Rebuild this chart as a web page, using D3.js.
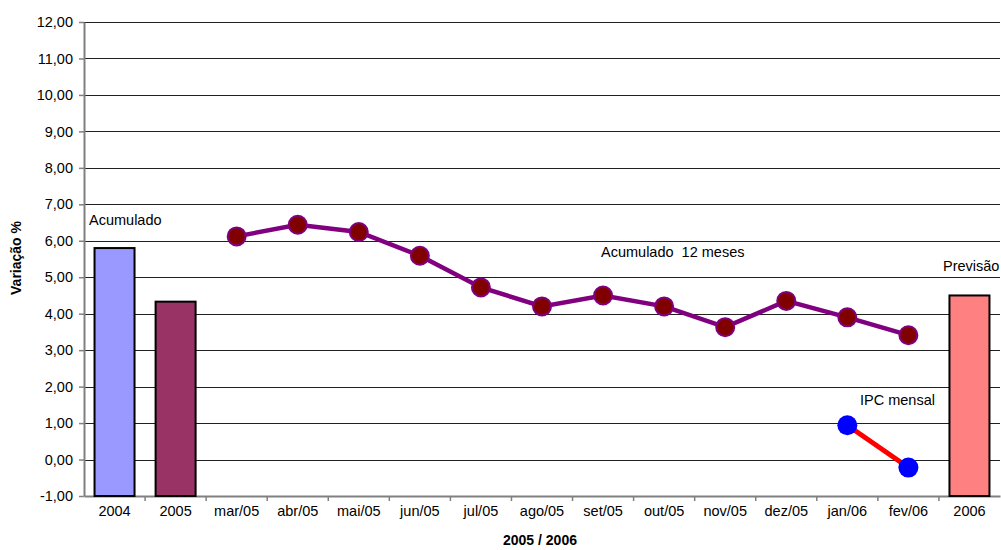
<!DOCTYPE html>
<html>
<head>
<meta charset="utf-8">
<script src="https://cdn.jsdelivr.net/npm/d3@7"></script>
<style>
  html, body { margin: 0; padding: 0; background: #fff; }
  svg text { font-family: "Liberation Sans", Arial, sans-serif; fill: #000; }
</style>
</head>
<body>
<svg id="chart" width="1001" height="550"></svg>
<script>
// Categories along the horizontal axis
const categories = ["2004", "2005", "mar/05", "abr/05", "mai/05", "jun/05", "jul/05",
  "ago/05", "set/05", "out/05", "nov/05", "dez/05", "jan/06", "fev/06", "2006"];

// Annual accumulated variation (bars)
const annualCats = ["2004", "2005", "2006"];
const annualValues = [5.80, 4.33, 4.50];
const annualColors = ["#9999FF", "#993366", "#FF8080"];

// 12-month accumulated IPC
const acumMonths = ["mar/05", "abr/05", "mai/05", "jun/05", "jul/05", "ago/05",
  "set/05", "out/05", "nov/05", "dez/05", "jan/06", "fev/06"];
const acumValues = [6.12, 6.44, 6.24, 5.59, 4.72, 4.20, 4.50, 4.20, 3.63, 4.35, 3.90, 3.41];

// Monthly IPC
const ipcMonths = ["jan/06", "fev/06"];
const ipcValues = [0.94, -0.22];

// Y axis ticks
const yTicks = d3.range(-1, 12.5, 1);

const svg = d3.select("#chart");
const plotLeft = 84, plotRight = 1000, plotTop = 22, plotBottom = 496;
const fontSize = 14.5;

const x = d3.scaleBand().domain(categories).range([plotLeft, plotRight]).padding(0);
const y = d3.scaleLinear().domain([-1, 12]).range([plotBottom, plotTop]);
// Portuguese number style: decimal comma, plain hyphen for negatives
const fmt = v => d3.format(".2f")(v).replace(".", ",").replace("\u2212", "-");

// Horizontal gridlines
svg.append("g")
  .selectAll("line")
  .data(yTicks.filter(v => v > -1))
  .join("line")
  .attr("x1", plotLeft).attr("x2", plotRight)
  .attr("y1", d => Math.round(y(d)) + 0.5).attr("y2", d => Math.round(y(d)) + 0.5)
  .attr("stroke", "#202020").attr("stroke-width", 1);

// Y axis
const yAxis = svg.append("g")
  .attr("transform", `translate(${plotLeft},0)`)
  .call(d3.axisLeft(y).tickValues(yTicks).tickFormat(fmt).tickSize(5).tickSizeOuter(0));
yAxis.select(".domain").attr("stroke", "#808080").attr("stroke-width", 2);
yAxis.selectAll(".tick line").attr("stroke", "#808080").attr("stroke-width", 1.5);
yAxis.selectAll(".tick text").attr("font-size", fontSize).attr("x", -11)
  .style("font-family", "'Liberation Sans', Arial, sans-serif").attr("fill", "#000");

// X axis
const xAxis = svg.append("g")
  .attr("transform", `translate(0,${plotBottom})`)
  .call(d3.axisBottom(x).tickSize(0).tickSizeOuter(0));
xAxis.select(".domain").attr("stroke", "#808080").attr("stroke-width", 2);
xAxis.selectAll(".tick text").attr("font-size", fontSize).attr("dy", "1.15em")
  .style("font-family", "'Liberation Sans', Arial, sans-serif").attr("fill", "#000");
// Tick marks on category boundaries
svg.append("g")
  .selectAll("line")
  .data(categories.slice(1))
  .join("line")
  .attr("x1", d => x(d)).attr("x2", d => x(d))
  .attr("y1", plotBottom).attr("y2", plotBottom + 5)
  .attr("stroke", "#808080").attr("stroke-width", 1.5);

// Annual bars
const barW = 40;
svg.append("g")
  .selectAll("rect")
  .data(annualCats)
  .join("rect")
  .attr("x", d => x(d) + x.bandwidth() / 2 - barW / 2)
  .attr("width", barW)
  .attr("y", (d, i) => y(annualValues[i]))
  .attr("height", (d, i) => y(-1) - y(annualValues[i]))
  .attr("fill", (d, i) => annualColors[i])
  .attr("stroke", "#000").attr("stroke-width", 2);

const cx = d => x(d) + x.bandwidth() / 2;

// 12-month accumulated line
const acumData = acumMonths.map((m, i) => [m, acumValues[i]]);
svg.append("path")
  .datum(acumData)
  .attr("fill", "none").attr("stroke", "#800080").attr("stroke-width", 4.5)
  .attr("d", d3.line().x(d => cx(d[0])).y(d => y(d[1])));
svg.append("g")
  .selectAll("circle")
  .data(acumData)
  .join("circle")
  .attr("cx", d => cx(d[0])).attr("cy", d => y(d[1])).attr("r", 9)
  .attr("fill", "#800000").attr("stroke", "#800080").attr("stroke-width", 2);

// Monthly IPC line
const ipcData = ipcMonths.map((m, i) => [m, ipcValues[i]]);
svg.append("path")
  .datum(ipcData)
  .attr("fill", "none").attr("stroke", "#FF0000").attr("stroke-width", 5)
  .attr("d", d3.line().x(d => cx(d[0])).y(d => y(d[1])));
svg.append("g")
  .selectAll("circle")
  .data(ipcData)
  .join("circle")
  .attr("cx", d => cx(d[0])).attr("cy", d => y(d[1])).attr("r", 10)
  .attr("fill", "#0000FF");

// Labels
const lab = (tx, ty, s, opts = {}) => svg.append("text")
  .attr("x", tx).attr("y", ty).attr("font-size", opts.size || fontSize)
  .attr("font-weight", opts.bold ? "bold" : null)
  .attr("text-anchor", opts.anchor || "start")
  .attr("dominant-baseline", "middle")
  .text(s);

lab(89, 221, "Acumulado");
lab(601, 253, "Acumulado\u00a0\u00a012 meses");
lab(860, 401, "IPC mensal");
lab(943, 267, "Previsão");

// Axis titles
lab(540, 541, "2005 / 2006", { bold: true, anchor: "middle", size: 14 });
svg.append("text")
  .attr("transform", `translate(17,258) rotate(-90)`)
  .attr("text-anchor", "middle").attr("dominant-baseline", "middle")
  .attr("font-size", 14).attr("font-weight", "bold")
  .text("Variação %");
</script>
</body>
</html>
